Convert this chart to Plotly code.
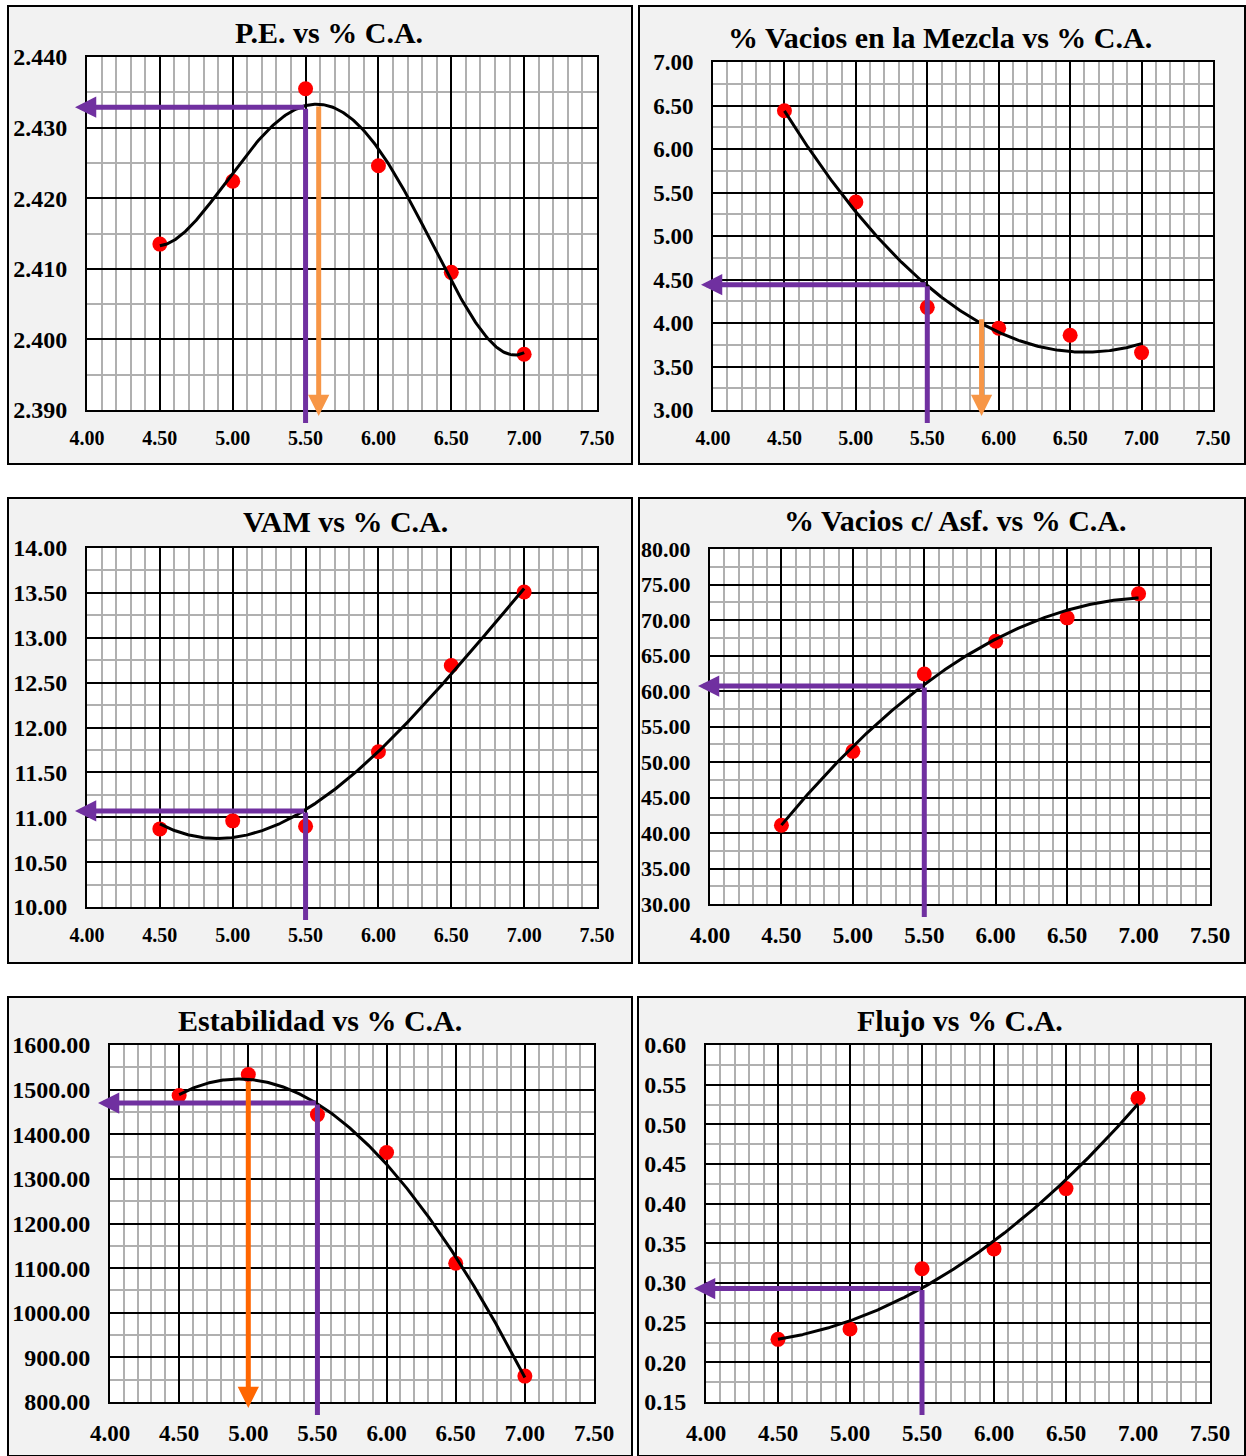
import numpy as np
import plotly.graph_objects as go

W, H = 1246, 1456

# ---------------- data ----------------
ca = [4.5, 5.0, 5.5, 6.0, 6.5, 7.0]
pe = [2.4135, 2.4224, 2.4355, 2.4246, 2.4095, 2.3979]
vacios_mezcla = [6.44, 5.39, 4.18, 3.94, 3.86, 3.66]
vam = [10.87, 10.96, 10.90, 11.73, 12.69, 13.51]
vacios_asf = [41.1, 51.5, 62.4, 67.0, 70.3, 73.7]
estabilidad = [1487, 1534, 1444, 1359, 1111, 858]
flujo = [0.229, 0.242, 0.318, 0.343, 0.419, 0.533]

titles = ["P.E. vs % C.A.", "% Vacios en la Mezcla vs % C.A.", "VAM vs % C.A.",
          "% Vacios c/ Asf. vs % C.A.", "Estabilidad vs % C.A.", "Flujo vs % C.A."]
series = [pe, vacios_mezcla, vam, vacios_asf, estabilidad, flujo]
trend_degree = [4, 2, 3, 2, 3, 2]

x_range = [4.0, 7.5]
y_ranges = [[2.39, 2.44], [3.0, 7.0], [10.0, 14.0], [30.0, 80.0], [800.0, 1600.0], [0.15, 0.60]]
y_dticks = [0.01, 0.5, 0.5, 5, 100, 0.05]
y_formats = [".3f", ".2f", ".2f", ".2f", ".2f", ".2f"]

# design reading lines (purple): x value and value read on the curve
design_ca = [5.5, 5.5, 5.5, 5.5, 5.5, 5.5]
design_val = [2.4329, 4.44, 11.07, 60.7, 1470, 0.293]
# orange lines: x, top value (None if absent)
orange_ca = [5.59, 5.88, None, None, 5.0, None]
orange_top = [2.4332, 4.06, None, None, 1521, None]
orange_col = ["#F79646", "#F79646", None, None, "#FF6600", None]

# ---------------- geometry (pixels) ----------------
panel_boxes = [(8, 6, 632, 464), (639, 6, 1245, 464), (8, 498, 632, 963),
               (639, 498, 1245, 963), (8, 997, 632, 1456), (638, 997, 1245, 1456)]
plot_boxes = [(87, 57, 597, 410), (713, 62, 1213, 410), (87, 548, 597, 907),
              (710, 549, 1210, 904), (110, 1045, 594, 1402), (706, 1045, 1210, 1402)]
title_pos = [(329, 32), (940, 37), (345, 521), (955, 520), (320, 1021), (960, 1021)]
ytick_size = [24, 23, 24, 22, 24, 24]
xtick_size = [20, 20, 20, 23, 23, 23]

FONT = "Liberation Serif"
PURPLE = "#7030A0"

fig = go.Figure()
shapes = []
annotations = []
layout = {}

def px_x(v):
    return v / W

def px_y(v):
    return 1 - v / H

for i in range(6):
    n = "" if i == 0 else str(i + 1)
    xa, ya = "x" + n, "y" + n
    bx0, by0, bx1, by1 = panel_boxes[i]
    shapes.append(dict(type="rect", xref="paper", yref="paper",
                       x0=px_x(bx0), x1=px_x(bx1), y0=px_y(by1), y1=px_y(by0),
                       fillcolor="#F2F2F2", line=dict(color="black", width=2), layer="below"))
    px0, py0, px1, py1 = plot_boxes[i]
    shapes.append(dict(type="rect", xref="paper", yref="paper",
                       x0=px_x(px0), x1=px_x(px1), y0=px_y(py1), y1=px_y(py0),
                       fillcolor="white", line=dict(width=0), layer="below"))

    yr = y_ranges[i]
    layout["xaxis" + n] = dict(
        domain=[px_x(px0), px_x(px1)], anchor=ya, range=x_range, dtick=0.5, tick0=4.0,
        tickformat=".2f", showgrid=True, gridcolor="black", gridwidth=2,
        minor=dict(dtick=0.1, showgrid=True, gridcolor="#B0B0B0", gridwidth=2),
        showline=True, mirror=True, linecolor="black", linewidth=2, zeroline=False,
        ticks="", ticklabelstandoff=9, automargin=False,
        tickfont=dict(family=FONT, size=xtick_size[i], color="black", weight="bold"),
        fixedrange=True)
    layout["yaxis" + n] = dict(
        domain=[px_y(py1), px_y(py0)], anchor=xa, range=yr, dtick=y_dticks[i], tick0=yr[0],
        tickformat=y_formats[i], showgrid=True, gridcolor="black", gridwidth=2,
        minor=dict(dtick=y_dticks[i] / 2, showgrid=True, gridcolor="#B0B0B0", gridwidth=2),
        showline=True, mirror=True, linecolor="black", linewidth=2, zeroline=False,
        ticks="", ticklabelstandoff=13, automargin=False,
        tickfont=dict(family=FONT, size=ytick_size[i], color="black", weight="bold"),
        fixedrange=True)

    vals = series[i]
    fig.add_trace(go.Scatter(x=ca, y=vals, mode="markers", xaxis=xa, yaxis=ya,
                             marker=dict(color="#FF0000", size=15), showlegend=False))
    coef = np.polyfit(ca, vals, trend_degree[i])
    xs = np.linspace(ca[0], ca[-1], 300)
    fig.add_trace(go.Scatter(x=xs, y=np.polyval(coef, xs), mode="lines", xaxis=xa, yaxis=ya,
                             line=dict(color="black", width=3), showlegend=False))

    # pixel scale to express extensions beyond the plot area
    ux = (x_range[1] - x_range[0]) / (px1 - px0)
    uy = (yr[1] - yr[0]) / (py1 - py0)

    # purple horizontal arrow to the y axis
    annotations.append(dict(xref=xa, yref=ya, axref=xa, ayref=ya,
                            x=x_range[0] - 12 * ux, y=design_val[i],
                            ax=design_ca[i], ay=design_val[i], text="", showarrow=True,
                            arrowhead=2, arrowsize=0.85, arrowwidth=5, arrowcolor=PURPLE,
                            standoff=0, startstandoff=0))
    # purple vertical line down past the x axis
    annotations.append(dict(xref=xa, yref=ya, axref=xa, ayref=ya,
                            x=design_ca[i], y=yr[0] - 13 * uy,
                            ax=design_ca[i], ay=design_val[i], text="", showarrow=True,
                            arrowhead=0, arrowwidth=5, arrowcolor=PURPLE,
                            standoff=0, startstandoff=0))
    if orange_ca[i] is not None:
        annotations.append(dict(xref=xa, yref=ya, axref=xa, ayref=ya,
                                x=orange_ca[i], y=yr[0] - 6 * uy,
                                ax=orange_ca[i], ay=orange_top[i], text="", showarrow=True,
                                arrowhead=2, arrowsize=0.85, arrowwidth=5,
                                arrowcolor=orange_col[i], standoff=0, startstandoff=0))

    tx, ty = title_pos[i]
    annotations.append(dict(xref="paper", yref="paper", x=px_x(tx), y=px_y(ty),
                            xanchor="center", yanchor="middle", showarrow=False,
                            text="<b>" + titles[i] + "</b>",
                            font=dict(family=FONT, size=30, color="black")))

fig.update_layout(width=W, height=H, margin=dict(l=0, r=0, t=0, b=0, pad=0),
                  autosize=False,
                  paper_bgcolor="white", plot_bgcolor="white",
                  shapes=shapes, annotations=annotations, showlegend=False, **layout)

fig.write_html("out.html", config={"displayModeBar": False})
